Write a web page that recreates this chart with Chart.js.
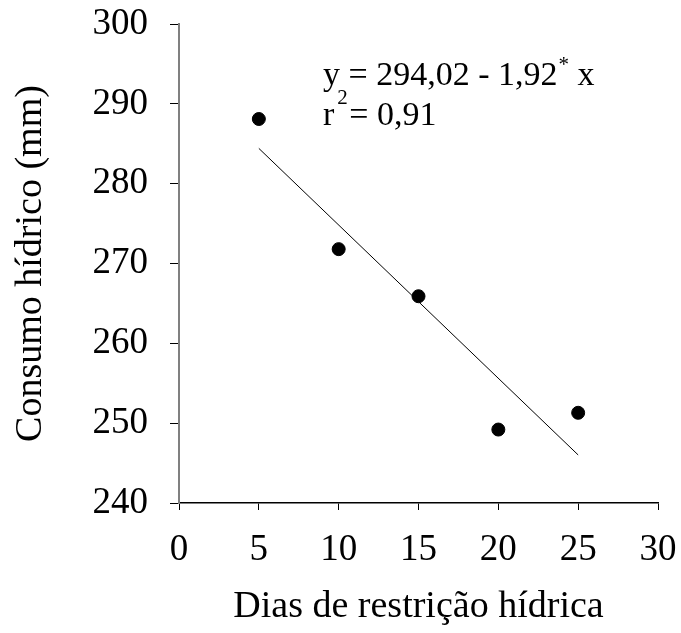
<!DOCTYPE html>
<html>
<head>
<meta charset="utf-8">
<script src="https://cdn.jsdelivr.net/npm/chart.js@4"></script>
<style>
  body { margin: 0; background: #fff; }
  canvas { display: block; background: #fff; }
</style>
</head>
<body>
<canvas id="chart" width="681" height="633"></canvas>
<script>
// dados
const dias = [5, 10, 15, 20, 25]
const consumo = [288.1, 271.8, 265.9, 249.2, 251.3]
// reta ajustada (extremos)
const ajusteX = [5, 25]
const ajusteY = [284.42, 246.02]
const xTicks = [0, 5, 10, 15, 20, 25, 30]
const yTicks = [240, 250, 260, 270, 280, 290, 300]
const linhaEq = 'y = 294,02 - 1,92'
const linhaEqFim = ' x'
const linhaR2 = ' = 0,91'

const SERIF = "'Liberation Serif', 'Times New Roman', serif"

// equação da regressão no canto superior
const equationPlugin = {
  id: 'equation',
  afterDatasetsDraw(chart) {
    const { ctx, chartArea } = chart
    const x0 = chartArea.left + 144
    const base1 = chartArea.top + 61
    const base2 = chartArea.top + 101
    ctx.save()
    ctx.fillStyle = '#000'
    ctx.textBaseline = 'alphabetic'
    ctx.textAlign = 'left'

    ctx.font = '34px ' + SERIF
    ctx.fillText(linhaEq, x0, base1)
    let xx = x0 + ctx.measureText(linhaEq).width + 1
    ctx.font = '21px ' + SERIF
    ctx.fillText('*', xx, base1 - 14)
    xx += ctx.measureText('*').width
    ctx.font = '34px ' + SERIF
    ctx.fillText(linhaEqFim, xx, base1)

    ctx.fillText('r', x0, base2)
    xx = x0 + ctx.measureText('r').width + 3
    ctx.font = '21px ' + SERIF
    ctx.fillText('2', xx, base2 - 21)
    xx += ctx.measureText('2').width
    ctx.font = '34px ' + SERIF
    ctx.fillText(linhaR2, xx - 7, base2)
    ctx.restore()
  }
}

const ctx = document.getElementById('chart').getContext('2d')

new Chart(ctx, {
  type: 'scatter',
  data: {
    datasets: [
      {
        label: 'Consumo',
        data: dias.map((d, i) => ({ x: d, y: consumo[i] })),
        backgroundColor: '#000',
        borderColor: '#000',
        pointRadius: 6.5,
        pointHoverRadius: 6.5
      },
      {
        label: 'Ajuste',
        data: ajusteX.map((d, i) => ({ x: d, y: ajusteY[i] })),
        showLine: true,
        borderColor: '#000',
        borderWidth: 1,
        pointRadius: 0,
        pointHoverRadius: 0
      }
    ]
  },
  options: {
    responsive: false,
    animation: false,
    events: [],
    layout: { padding: { top: 24, right: 23, left: 0, bottom: 0 } },
    plugins: {
      legend: { display: false },
      tooltip: { enabled: false }
    },
    scales: {
      x: {
        type: 'linear',
        min: 0,
        max: 30,
        afterBuildTicks: (scale) => { scale.ticks = xTicks.map(v => ({ value: v })) },
        afterFit: (scale) => {
          scale.height = 130
          scale.paddingLeft = 0
          scale.paddingRight = 0
        },
        border: { display: true, color: '#000', width: 1.5 },
        grid: { drawOnChartArea: false, drawTicks: true, tickLength: 7, color: '#000' },
        ticks: {
          color: '#000',
          padding: 18,
          maxRotation: 0,
          font: { family: SERIF, size: 37, lineHeight: 1.2 }
        },
        title: {
          display: true,
          text: 'Dias de restrição hídrica',
          color: '#000',
          padding: { top: 0, bottom: 3 },
          font: { family: SERIF, size: 38, lineHeight: 1.2 }
        }
      },
      y: {
        type: 'linear',
        min: 240,
        max: 300,
        afterBuildTicks: (scale) => { scale.ticks = yTicks.map(v => ({ value: v })) },
        afterFit: (scale) => {
          scale.width = 179
          scale.paddingTop = 0
          scale.paddingBottom = 0
        },
        border: { display: true, color: '#808080', width: 2 },
        grid: { drawOnChartArea: false, drawTicks: true, tickLength: 9, color: '#000' },
        ticks: {
          color: '#000',
          padding: 22,
          font: { family: SERIF, size: 37, lineHeight: 1.2 }
        },
        title: {
          display: true,
          text: 'Consumo hídrico (mm)',
          color: '#000',
          padding: { top: 8, bottom: 0 },
          font: { family: SERIF, size: 38, lineHeight: 1.2 }
        }
      }
    }
  },
  plugins: [equationPlugin]
})
</script>
</body>
</html>
